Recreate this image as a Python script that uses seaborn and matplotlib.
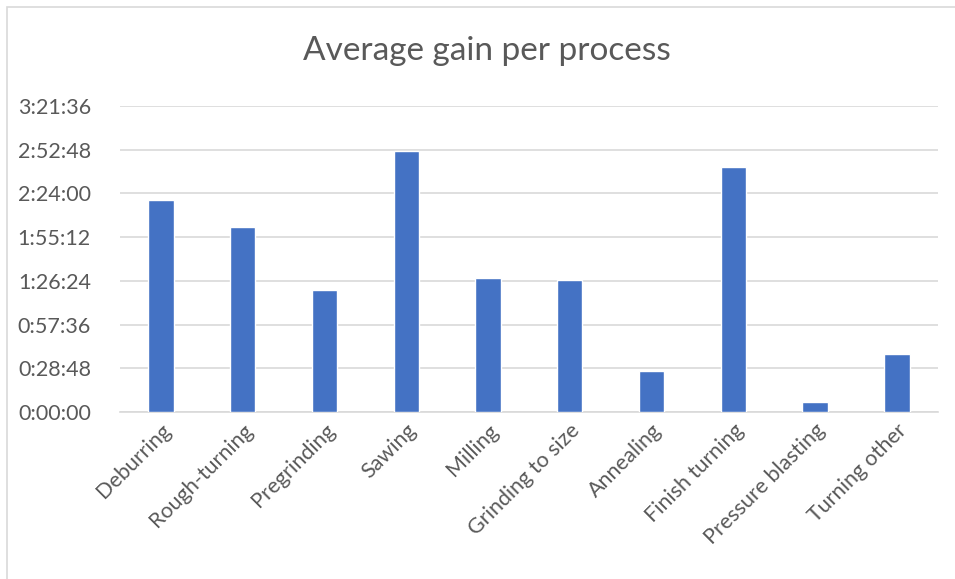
import matplotlib
matplotlib.use("Agg")
import matplotlib.pyplot as plt
import matplotlib.patches as mpatches
from matplotlib.ticker import FuncFormatter, MultipleLocator
import seaborn as sns
import pandas as pd

# Average gain per process, in minutes
processes = ["Deburring", "Rough-turning", "Pregrinding", "Sawing", "Milling",
             "Grinding to size", "Annealing", "Finish turning", "Pressure blasting",
             "Turning other"]
gain_minutes = [139.5, 121.9, 80.4, 172.0, 88.5, 87.2, 26.8, 161.5, 6.6, 38.0]

df = pd.DataFrame({"process": processes, "seconds": [m * 60 for m in gain_minutes]})


def hms(x, pos=None):
    s = int(round(x))
    return f"{s // 3600}:{(s % 3600) // 60:02d}:{s % 60:02d}"


sns.set_theme(style="white")
plt.rcParams["font.family"] = ["Lato", "DejaVu Sans"]

fig = plt.figure(figsize=(9.55, 5.79), dpi=100)
ax = fig.add_axes([0.1257, 0.2884, 0.8563, 0.5286])

sns.barplot(data=df, x="process", y="seconds", color="#4472C4", width=0.31,
            saturation=1, ax=ax, zorder=3)

ax.set_ylim(0, 12096)
ax.yaxis.set_major_locator(MultipleLocator(1728))
ax.yaxis.set_major_formatter(FuncFormatter(hms))
ax.grid(axis="y", color="#d9d9d9", linewidth=1.2, zorder=0)
ax.set_axisbelow(True)

for side in ["top", "right", "left"]:
    ax.spines[side].set_visible(False)
ax.spines["bottom"].set_color("#d9d9d9")
ax.spines["bottom"].set_linewidth(1.2)

ax.tick_params(axis="both", length=0, colors="#595959")
ax.tick_params(axis="y", labelsize=15.5, pad=21)
ax.tick_params(axis="x", labelsize=15.5, pad=6)
plt.setp(ax.get_xticklabels(), rotation=45, ha="right", rotation_mode="anchor")
ax.set_xlabel("")
ax.set_ylabel("")

fig.text(0.51, 0.912, "Average gain per process", ha="center", va="center",
         fontsize=24, color="#595959")

# light chart border like the spreadsheet frame
fig.patches.append(mpatches.Rectangle((0.007, -0.01), 1.1, 0.998, transform=fig.transFigure,
                                      fill=False, edgecolor="#d9d9d9", linewidth=1.2))

fig.savefig("out.png", dpi=100)
